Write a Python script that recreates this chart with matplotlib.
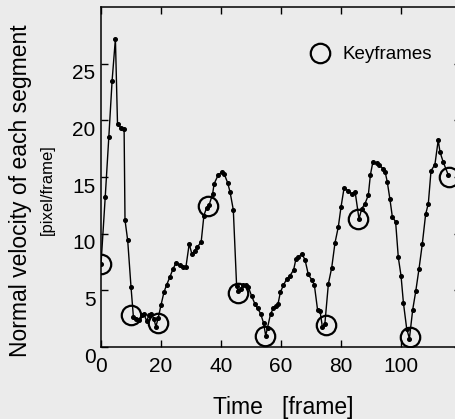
import matplotlib
matplotlib.use("Agg")
import matplotlib.pyplot as plt
from matplotlib.lines import Line2D
from matplotlib.transforms import ScaledTranslation

# Data
frames = [0, 1.4, 2.6, 3.7, 4.8, 5.5, 6.6, 7.7, 8.0, 8.9, 10.0, 10.8,
          11.8, 12.6, 13.5, 14.3, 15.2, 16.0, 16.8, 17.6, 18.3, 19.1, 20.0,
          21.0, 21.9, 23.0, 24.0, 25.0, 26.3, 27.3, 28.3, 29.4, 30.3, 31.2,
          32.1, 33.4, 34.3, 35.2, 36.0, 37.2, 37.7, 39.1, 40.2, 41.1, 42.2,
          43.0, 44.1, 45.2, 45.8, 46.5, 47.4, 48.2, 49.1, 50.2, 51.3, 52.2,
          53.2, 54.2, 54.9, 55.5, 56.5, 57.4, 58.2, 59.0, 59.8, 60.8, 61.9,
          63.0, 64.2, 65.0, 65.8, 66.9, 68.0, 69.1, 70.2, 71.1, 72.2, 73.0,
          73.8, 74.6, 75.8, 76.9, 78.0, 79.1, 80.0, 81.0, 82.4, 83.6, 84.7,
          86.0, 86.9, 88.0, 89.1, 89.8, 90.6, 91.9, 92.8, 93.9, 94.7, 95.4,
          96.3, 97.1, 98.2, 99.1, 100.0, 100.8, 101.9, 102.8, 103.9, 104.9,
          106.0, 107.1, 108.2, 109.1, 110.0, 111.3, 112.4, 113.0, 114.1,
          115.8]
velocity = [7.3, 13.2, 18.5, 23.5, 27.2, 19.7, 19.35, 19.2, 11.2, 9.4, 5.3,
            2.65, 2.5, 2.4, 2.8, 2.9, 2.3, 2.8, 2.9, 2.5, 1.8, 2.6, 3.7,
            4.85, 5.5, 6.2, 6.9, 7.4, 7.2, 7.05, 7.05, 9.1, 8.2, 8.5,
            8.8, 9.3, 11.6, 12.3, 12.5, 13.5, 14.4, 15.2, 15.4, 15.25, 14.5,
            13.7, 12.1, 5.4, 4.9, 5.15, 5.45, 5.5, 5.3, 4.5, 3.8, 3.4,
            2.95, 2.1, 1.0, 1.7, 2.9, 3.4, 3.6, 3.8, 4.85, 5.45, 6.0,
            6.3, 6.8, 7.8, 7.9, 8.25, 7.7, 6.4, 5.95, 5.5, 3.25, 3.2,
            1.75, 2.0, 5.6, 7.0, 9.2, 10.6, 12.35, 14.0, 13.8, 13.5, 13.7,
            11.3, 12.2, 12.65, 13.4, 15.2, 16.3, 16.2, 16.05, 15.75, 15.45, 14.6,
            13.05, 11.5, 11.05, 7.9, 6.3, 3.9, 1.6, 0.75, 3.3, 4.9,
            6.9, 9.1, 11.7, 12.65, 15.55, 16.1, 18.25, 17.2, 16.3,
            15.15]

key_frames = [0, 10, 18.9, 35.8, 45.5, 54.7, 75, 85.8, 103, 116.1]
key_velocity = [7.3, 2.8, 2.1, 12.4, 4.8, 1.0, 1.9, 11.3, 0.9, 15.0]

x_ticks = [0, 20, 40, 60, 80, 100]
y_ticks = [0, 5, 10, 15, 20, 25]

bg = '#ebebeb'
plt.rcParams['font.family'] = ['Liberation Sans', 'DejaVu Sans']

fig = plt.figure(figsize=(4.56, 4.19), dpi=100, facecolor=bg)
ax = fig.add_axes([0.2215, 0.1718, 0.7895, 0.8115])
ax.set_facecolor(bg)

ax.plot(frames, velocity, color='black', lw=1.0, marker='o', ms=2.6,
        mfc='black', mec='black')
ax.plot(key_frames, key_velocity, linestyle='none', marker='o', ms=14,
        mfc='none', mec='black', mew=1.6)

ax.set_xlim(0, 120)
ax.set_ylim(0, 30)
ax.set_xticks(x_ticks)
ax.set_yticks(y_ticks)
ax.tick_params(direction='in', top=True, right=True, length=5, width=1,
               labelsize=15, colors='black')
ax.tick_params(axis='x', pad=7)
ax.tick_params(axis='y', pad=4)
for sp in ax.spines.values():
    sp.set_linewidth(1.1)

offset = ScaledTranslation(0, -8 / 100, fig.dpi_scale_trans)
for lab in ax.get_yticklabels():
    lab.set_transform(lab.get_transform() + offset)

handle = Line2D([], [], linestyle='none', marker='o', ms=14, mfc='none',
                mec='black', mew=1.6)
ax.legend([handle], ['Keyframes'], loc='center left',
          bbox_to_anchor=(0.521, 0.86), frameon=False, fontsize=13.5,
          handletextpad=0.5, handlelength=1.5)

fig.text(283 / 456, 1 - 407 / 419, 'Time   [frame]', ha='center',
         va='center', fontsize=16.5)
fig.text(21 / 456, 1 - 191 / 419, 'Normal velocity of each segment',
         rotation=90, ha='center', va='center', fontsize=16.5)
fig.text(47 / 456, 1 - 190 / 419, '[pixel/frame]', rotation=90,
         ha='center', va='center', fontsize=12)

fig.savefig('out.png', dpi=100, facecolor=bg)
